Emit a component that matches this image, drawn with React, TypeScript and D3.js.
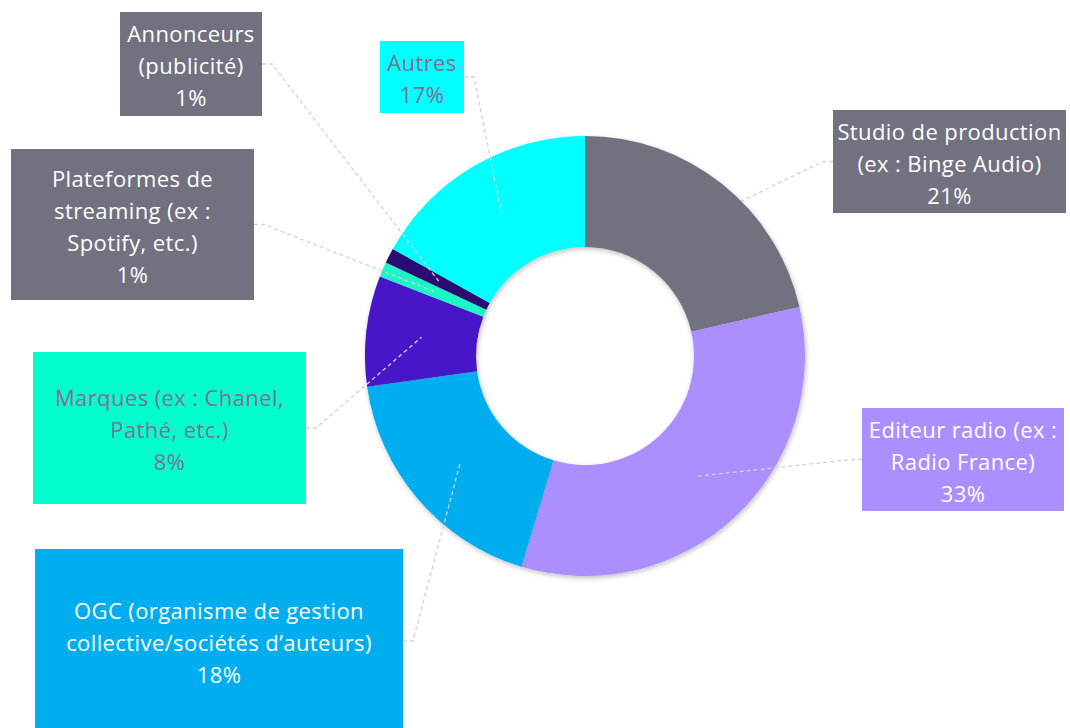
import React, { useRef, useEffect } from "react";
import * as d3 from "d3";

// Sources de revenus (part en %), dans l'ordre du donut, sens horaire depuis midi
const categories = [
  "Studio de production",
  "Editeur radio",
  "OGC",
  "Marques",
  "Plateformes de streaming",
  "Annonceurs",
  "Autres",
];
const labelLines = [
  ["Studio de production", "(ex : Binge Audio)"],
  ["Editeur radio (ex :", "Radio France)"],
  ["OGC (organisme de gestion", "collective/sociétés d’auteurs)"],
  ["Marques (ex : Chanel,", "Pathé, etc.)"],
  ["Plateformes de", "streaming (ex :", "Spotify, etc.)"],
  ["Annonceurs", "(publicité)"],
  ["Autres"],
];
const shares = [21.4, 33.2, 18.1, 8.1, 1.1, 1.1, 16.9];
const percentLabels = ["21%", "33%", "18%", "8%", "1%", "1%", "17%"];

const sliceColors = ["#71717f", "#ab8eff", "#00aeef", "#4616c8", "#1ff5c8", "#2c1173", "#00ffff"];

// position des étiquettes (boîtes)
const boxes = [
  { x: 833, y: 110, w: 233, h: 103, fill: "#71717f", color: "#ffffff", side: "left", under: true },
  { x: 862, y: 408, w: 202, h: 103, fill: "#ab8eff", color: "#ffffff", side: "left", under: false },
  { x: 35, y: 549, w: 368, h: 184, fill: "#00aeef", color: "#ffffff", side: "right", under: false },
  { x: 33, y: 352, w: 273, h: 152, fill: "#00ffcc", color: "#7f6f8f", side: "right", under: false },
  { x: 11, y: 149, w: 243, h: 151, fill: "#71717f", color: "#ffffff", side: "right", under: false },
  { x: 120, y: 12, w: 142, h: 104, fill: "#71717f", color: "#ffffff", side: "right", under: false },
  { x: 380, y: 41, w: 84, h: 72, fill: "#00ffff", color: "#7f6f8f", side: "right", under: false },
];

const width = 1070,
  height = 728;

const App = () => {
  const svgRef = useRef<SVGSVGElement>(null);

  useEffect(() => {
    const svg = d3.select(svgRef.current);
    svg.selectAll("*").remove();

    const cx = 585,
      cy = 356,
      outer = 220,
      inner = 109;

    const data = categories.map((c, i) => ({ name: c, value: shares[i], i }));
    const pie = d3
      .pie<any>()
      .sort(null)
      .value((d) => d.value);
    const arcs = pie(data);
    const arc = d3.arc<any>().innerRadius(inner).outerRadius(outer);

    // ombre légère du donut
    const defs = svg.append("defs");
    defs
      .append("filter")
      .attr("id", "ombre")
      .attr("x", "-20%")
      .attr("y", "-20%")
      .attr("width", "140%")
      .attr("height", "140%")
      .append("feDropShadow")
      .attr("dx", 1)
      .attr("dy", 2)
      .attr("stdDeviation", 2.5)
      .attr("flood-color", "#000")
      .attr("flood-opacity", 0.25);

    const leaderPoints = (a: any) => {
      const b = boxes[a.index];
      const c = arc.centroid(a);
      const yMid = b.y + b.h / 2;
      const x0 = b.side === "left" ? b.x : b.x + b.w;
      const x1 = b.side === "left" ? b.x - 10 : b.x + b.w + 10;
      return [
        [x0, yMid],
        [x1, yMid],
        [cx + c[0], cy + c[1]],
      ] as [number, number][];
    };

    const drawLeaders = (sel: any[]) => {
      svg
        .append("g")
        .selectAll("path")
        .data(sel)
        .join("path")
        .attr("d", (a) => d3.line()(leaderPoints(a)))
        .attr("fill", "none")
        .attr("stroke", "#d2d2d2")
        .attr("stroke-width", 1.3)
        .attr("stroke-dasharray", "4,3");
    };

    // la ligne du studio passe sous le donut
    drawLeaders(arcs.filter((a) => boxes[a.index].under));

    const g = svg.append("g").attr("transform", `translate(${cx},${cy})`);
    g.append("g")
      .attr("filter", "url(#ombre)")
      .selectAll("path")
      .data(arcs)
      .join("path")
      .attr("d", arc)
      .attr("fill", (d) => sliceColors[d.index]);

    drawLeaders(arcs.filter((a) => !boxes[a.index].under));

    // boîtes d'étiquettes
    const labels = svg
      .append("g")
      .selectAll("g")
      .data(arcs)
      .join("g");

    labels
      .append("rect")
      .attr("x", (d) => boxes[d.index].x)
      .attr("y", (d) => boxes[d.index].y)
      .attr("width", (d) => boxes[d.index].w)
      .attr("height", (d) => boxes[d.index].h)
      .attr("fill", (d) => boxes[d.index].fill);

    const lineH = 32;
    labels.each(function (d) {
      const b = boxes[d.index];
      const lines = [...labelLines[d.index], percentLabels[d.index]];
      const top = b.y + b.h / 2 - ((lines.length - 1) * lineH) / 2 + 1;
      d3.select(this)
        .selectAll("text")
        .data(lines)
        .join("text")
        .attr("x", b.x + b.w / 2)
        .attr("y", (_, k) => top + k * lineH)
        .attr("text-anchor", "middle")
        .attr("dominant-baseline", "central")
        .attr("fill", b.color)
        .style("font-family", "'Open Sans', sans-serif")
        .style("font-size", "22px")
        .style("letter-spacing", "0.4px")
        .text((t) => t);
    });
  }, []);

  return (
    <svg
      ref={svgRef}
      width={width}
      height={height}
      style={{ position: "absolute", left: 0, top: 0, background: "#ffffff" }}
    ></svg>
  );
};

export default App;
